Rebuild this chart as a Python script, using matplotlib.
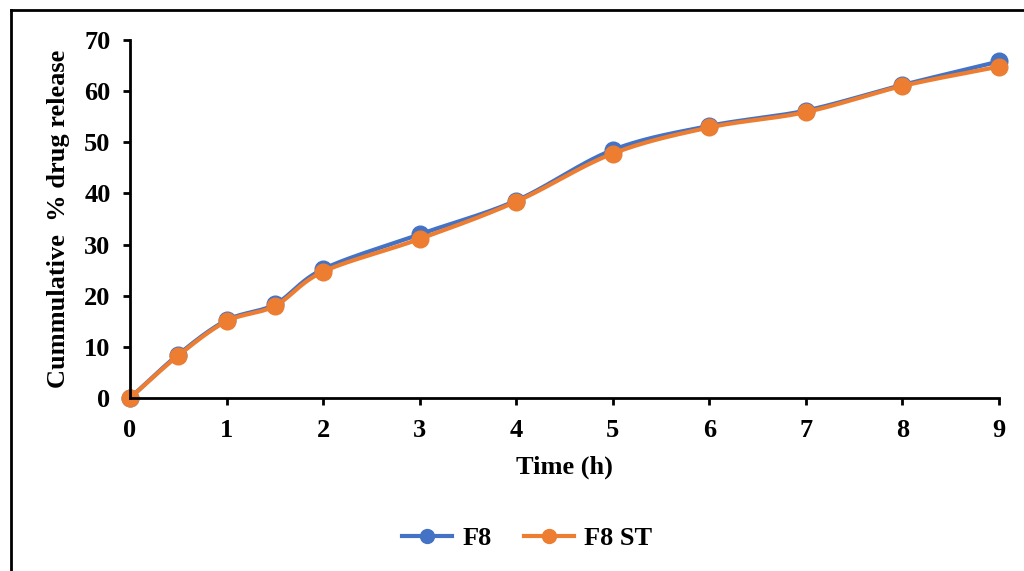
import numpy as np
import matplotlib.pyplot as plt
from matplotlib.lines import Line2D

time_h = [0, 0.5, 1, 1.5, 2, 3, 4, 5, 6, 7, 8, 9]
f8 = [0, 8.5, 15.2, 18.3, 25.2, 32.0, 38.6, 48.5, 53.2, 56.2, 61.2, 65.8]
f8_st = [0, 8.3, 15.0, 18.0, 24.7, 31.1, 38.4, 47.8, 52.9, 55.9, 61.0, 64.8]

series_names = ["F8", "F8 ST"]
series_colors = ["#4472C4", "#ED7D31"]

plt.rcParams['font.family'] = ['Liberation Serif', 'DejaVu Serif']
plt.rcParams['font.weight'] = 'bold'


def smooth(x, y, n=30):
    # Catmull-Rom curve through the points, like a spreadsheet "smoothed line"
    x = np.asarray(x, float)
    y = np.asarray(y, float)
    px = np.concatenate([[2 * x[0] - x[1]], x, [2 * x[-1] - x[-2]]])
    py = np.concatenate([[2 * y[0] - y[1]], y, [2 * y[-1] - y[-2]]])
    t = np.linspace(0, 1, n)
    xs, ys = [], []
    for i in range(1, len(px) - 2):
        for p, out in ((px, xs), (py, ys)):
            p0, p1, p2, p3 = p[i - 1], p[i], p[i + 1], p[i + 2]
            out.extend(0.5 * (2 * p1 + (-p0 + p2) * t
                              + (2 * p0 - 5 * p1 + 4 * p2 - p3) * t ** 2
                              + (-p0 + 3 * p1 - 3 * p2 + p3) * t ** 3))
    return np.array(xs), np.array(ys)


fig = plt.figure(figsize=(10.24, 5.71), dpi=100)
ax = fig.add_axes([0.127, 0.303, 0.8486, 0.627])

for vals, col in zip([f8, f8_st], series_colors):
    sx, sy = smooth(time_h, vals)
    ax.plot(sx, sy, color=col, lw=3, solid_capstyle='round', clip_on=False)
    ax.plot(time_h, vals, 'o', color=col, ms=12, clip_on=False)

ax.set_xlim(0, 9)
ax.set_ylim(0, 70)
ax.set_xticks(range(0, 10))
ax.set_yticks(range(0, 71, 10))
for side in ['top', 'right']:
    ax.spines[side].set_visible(False)
for side in ['left', 'bottom']:
    ax.spines[side].set_linewidth(2)
ax.tick_params(axis='both', direction='out', length=5, width=2, labelsize=19)
ax.tick_params(axis='y', pad=9)
ax.tick_params(axis='x', pad=10)

ax.set_xlabel("Time (h)", fontsize=19, fontweight='bold', labelpad=10)
ax.set_ylabel("Cummulative  % drug release", fontsize=19, fontweight='bold', labelpad=10)

handles = [Line2D([0], [0], color=c, lw=3, marker='o', ms=10) for c in series_colors]
fig.legend(handles, series_names, loc='center', bbox_to_anchor=(0.515, 0.057), ncol=2,
           frameon=False, fontsize=19, handlelength=1.9, columnspacing=1.2, handletextpad=0.4)

# outer frame along the left and top edges
fig.add_artist(Line2D([0.0103, 0.0103], [0, 0.982], color='black', lw=2, transform=fig.transFigure))
fig.add_artist(Line2D([0.0103, 1.0], [0.982, 0.982], color='black', lw=2, transform=fig.transFigure))

fig.savefig("out.png", dpi=100)
